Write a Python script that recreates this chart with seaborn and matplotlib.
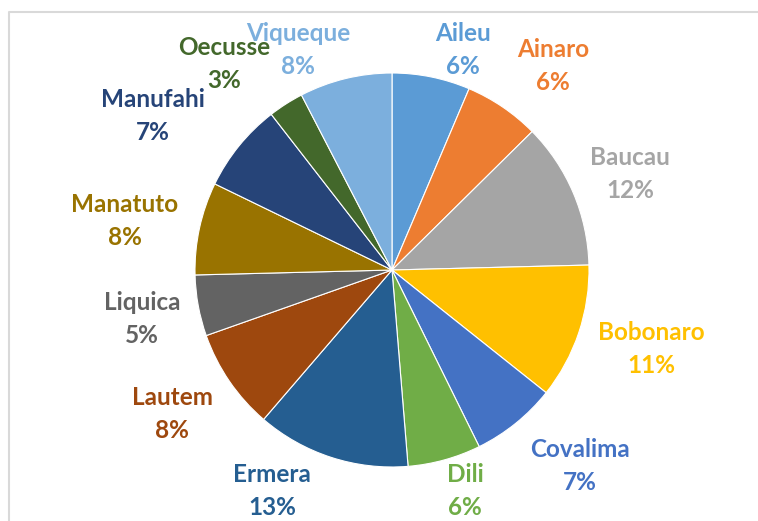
import matplotlib
matplotlib.use("Agg")
import matplotlib.pyplot as plt
from matplotlib import font_manager
import seaborn as sns

# Share of each district (percent)
districts = ["Aileu", "Ainaro", "Baucau", "Bobonaro", "Covalima", "Dili", "Ermera",
             "Lautem", "Liquica", "Manatuto", "Manufahi", "Oecusse", "Viqueque"]
shares = [6.4, 6.2, 12.0, 11.1, 7.0, 6.0, 12.6, 8.3, 5.0, 7.6, 7.3, 2.9, 7.6]
pct_labels = ["6%", "6%", "12%", "11%", "7%", "6%", "13%", "8%", "5%", "8%", "7%", "3%", "8%"]

colors = ["#5B9BD5", "#ED7D31", "#A5A5A5", "#FFC000", "#4472C4", "#70AD47", "#255E91",
          "#9E480E", "#636363", "#997300", "#264478", "#43682B", "#7CAFDD"]

# label block centres in image pixels (x, y from top)
label_pos = [(463, 50), (553, 66), (630, 174), (651, 349), (580, 466), (465, 491),
             (272, 491), (172, 414), (142, 319), (125, 221), (153, 116), (224, 64),
             (298, 50)]

W, H = 758, 521

sns.set_theme(style="white")
available = {f.name for f in font_manager.fontManager.ttflist}
family = "Lato" if "Lato" in available else "DejaVu Sans"
plt.rcParams["font.family"] = [family, "DejaVu Sans"]

fig = plt.figure(figsize=(W / 100, H / 100), dpi=100)
ax = fig.add_axes([0, 0, 1, 1])

ax.pie(
    shares,
    colors=colors,
    startangle=90,
    counterclock=False,
    center=(392, H - 270),
    radius=197,
    wedgeprops=dict(edgecolor="white", linewidth=0.8),
)
ax.set_xlim(0, W)
ax.set_ylim(0, H)
ax.set_aspect("equal")
ax.axis("off")

# chart border (top + left visible)
ax.plot([9, 9, W + 5], [-5, H - 12, H - 12], color="#D9D9D9", linewidth=1.5, clip_on=False)

for name, pct, col, (x, y) in zip(districts, pct_labels, colors, label_pos):
    yy = H - y
    ax.text(x, yy + 16.5, name, color=col, fontsize=17.5, fontweight="bold",
            ha="center", va="center")
    ax.text(x, yy - 16.5, pct, color=col, fontsize=17.5, fontweight="bold",
            ha="center", va="center")

fig.savefig("out.png", dpi=100)
